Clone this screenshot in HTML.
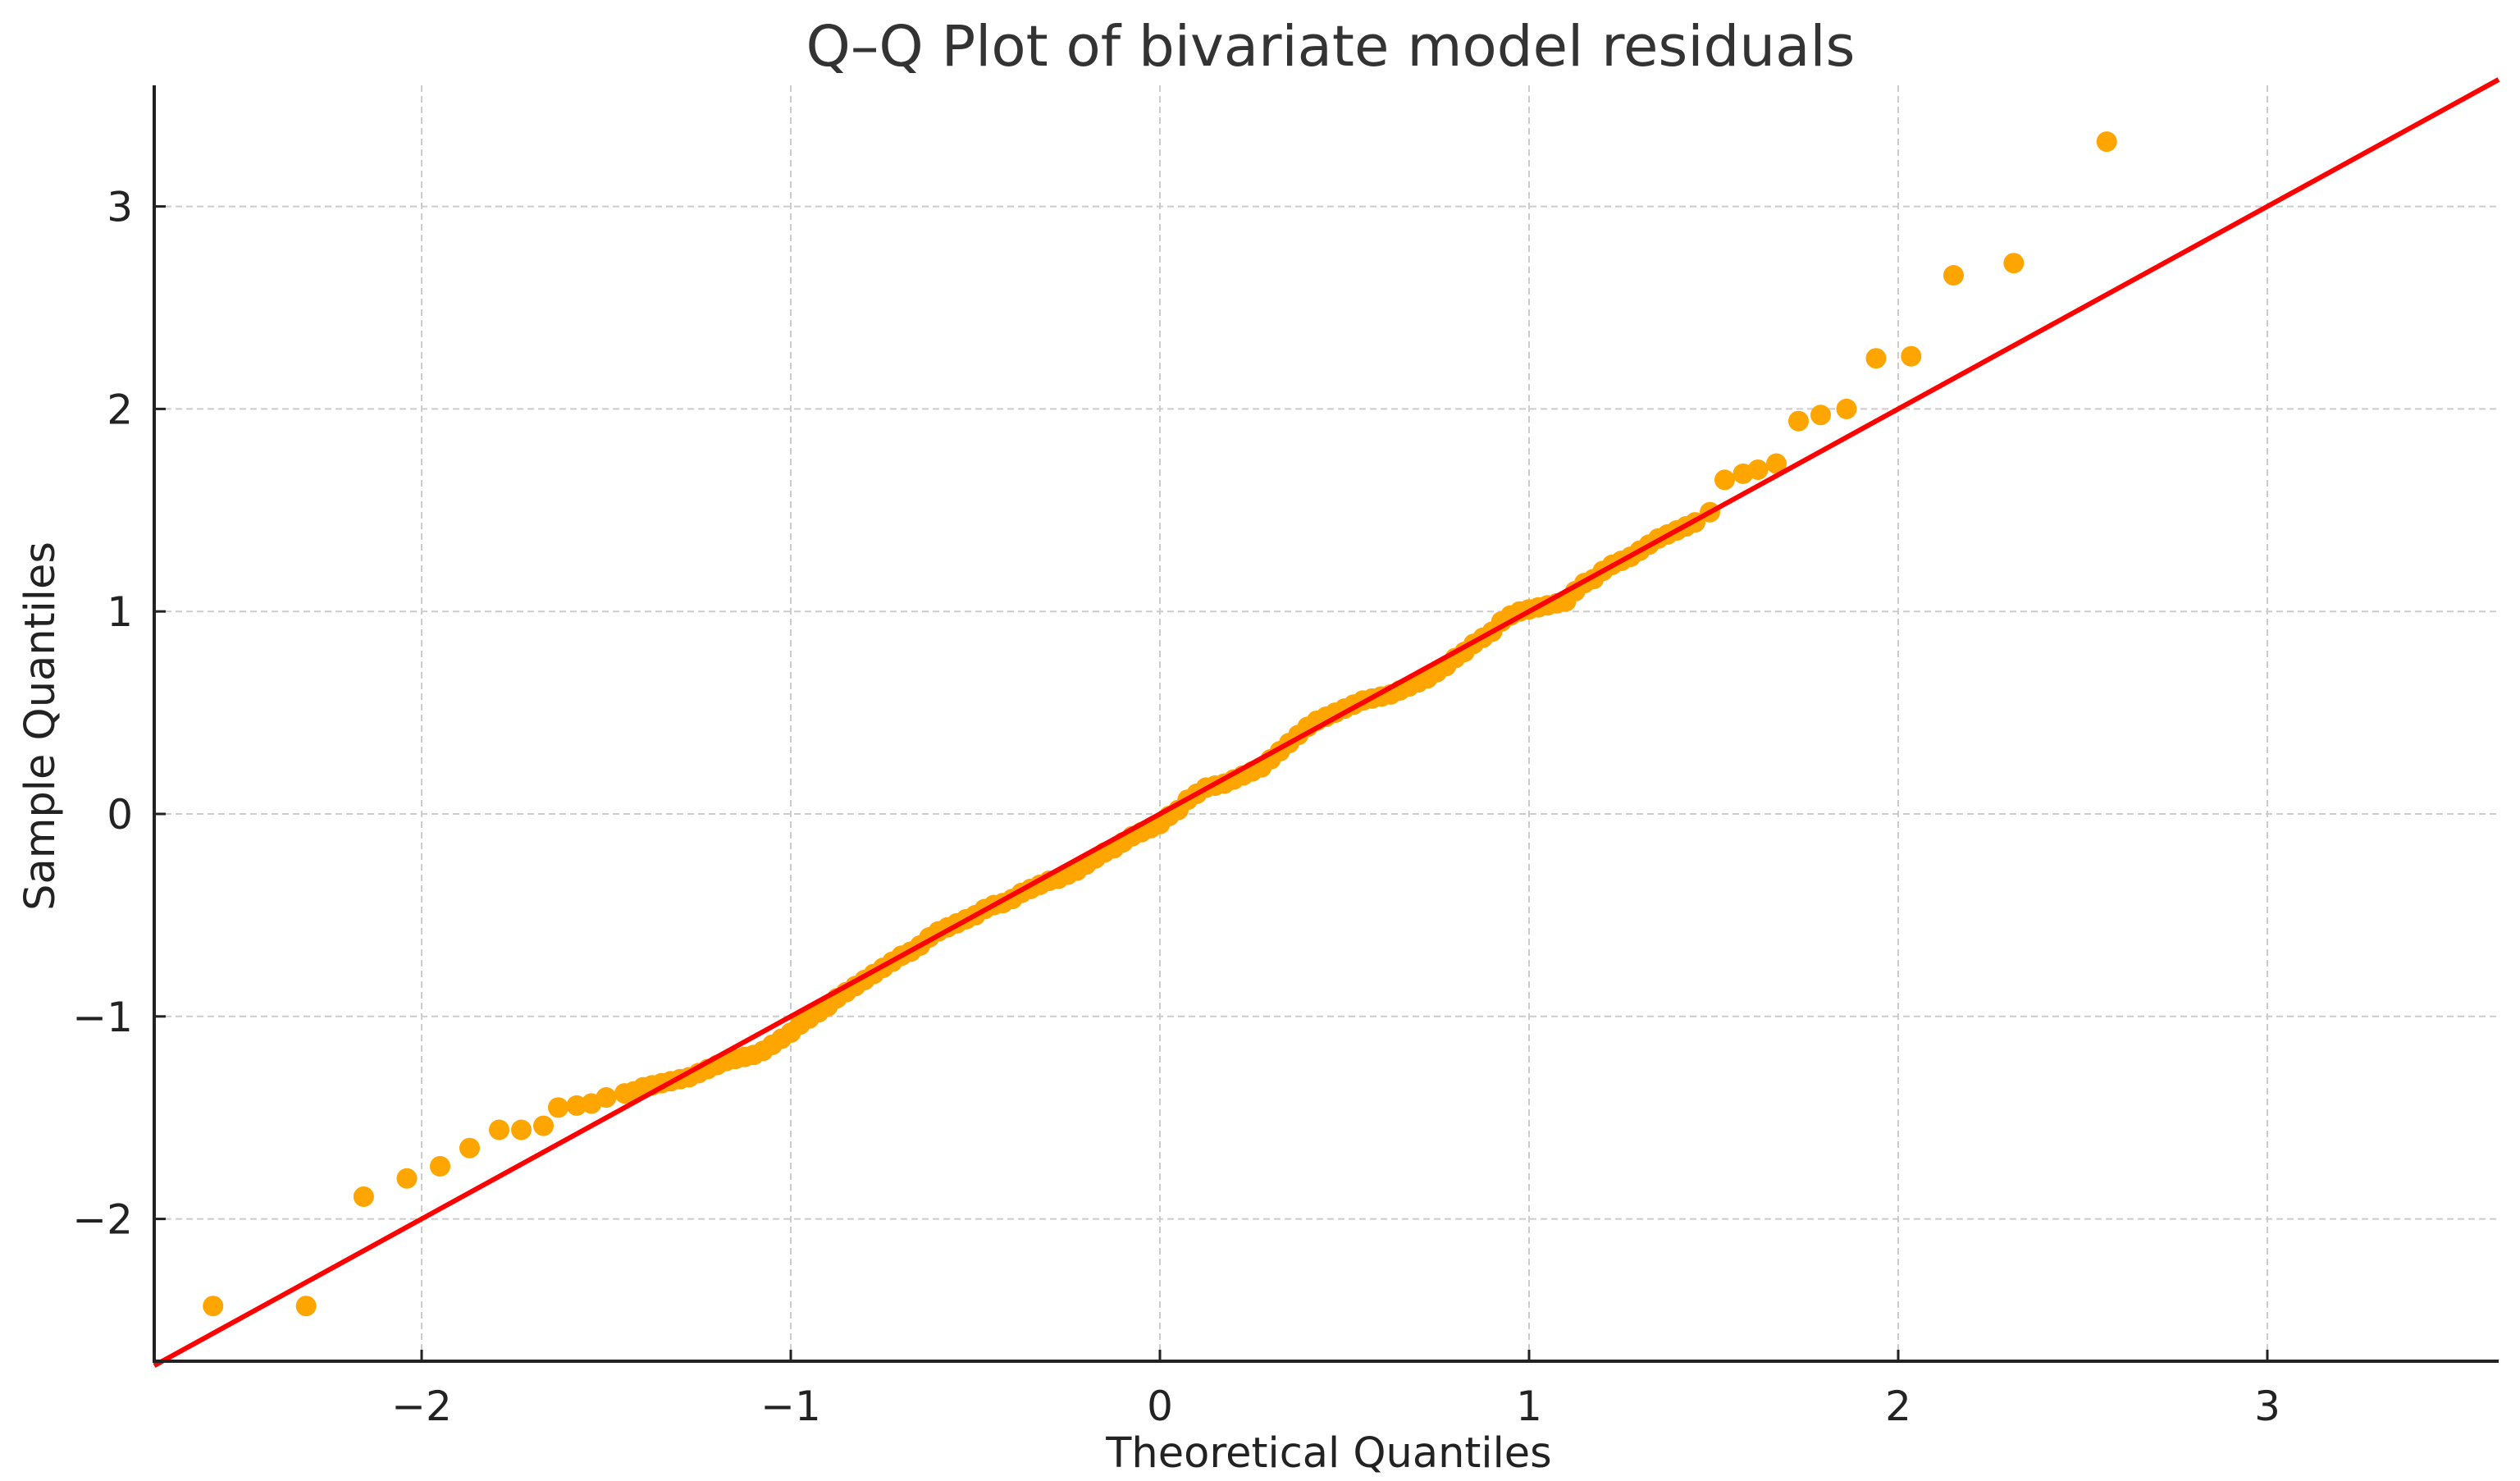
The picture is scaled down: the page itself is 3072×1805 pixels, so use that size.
<!DOCTYPE html>
<html><head><meta charset="utf-8"><style>
html,body{margin:0;padding:0;background:#fff}
svg{display:block;font-family:"DejaVu Sans","Liberation Sans",sans-serif}
</style></head><body>
<svg id="chart" width="3072" height="1805" viewBox="0 0 3072 1805" xmlns="http://www.w3.org/2000/svg">
<text x="1622" y="80" font-size="69" text-anchor="middle" fill="#333">Q–Q Plot of bivariate model residuals</text>
<g id="grid"></g>
<g id="ref"></g>
<g id="pts"></g>
<g id="axes"></g>
<text x="1620" y="1788" font-size="51" text-anchor="middle" fill="#222">Theoretical Quantiles</text>
<text x="0" y="0" font-size="51" text-anchor="middle" fill="#222" transform="translate(66,885) rotate(-90)">Sample Quantiles</text>
</svg>
<script>
const xTicks=[-2,-1,0,1,2,3];
const yTicks=[-2,-1,0,1,2,3];
const xTickLabels=["−2","−1","0","1","2","3"];
const yTickLabels=["−2","−1","0","1","2","3"];
const theoretical=[-2.565,-2.313,-2.157,-2.04,-1.95,-1.87,-1.79,-1.73,-1.67,-1.63,-1.58,-1.54,-1.50,
-1.45,-1.425,-1.40,-1.375,-1.35,-1.325,-1.30,-1.275,-1.25,-1.225,-1.20,-1.175,-1.15,-1.125,-1.10,-1.075,-1.05,-1.025,-1.00,-0.975,-0.95,-0.925,-0.90,-0.875,-0.85,-0.825,-0.80,-0.775,-0.75,-0.725,-0.70,-0.675,-0.65,-0.625,-0.60,-0.575,-0.55,-0.525,-0.50,-0.475,-0.45,-0.425,-0.40,-0.375,-0.35,-0.325,-0.30,-0.275,-0.25,-0.225,-0.20,-0.175,-0.15,-0.125,-0.10,-0.075,-0.05,-0.025,0.00,0.025,0.05,0.075,0.10,0.125,0.15,0.175,0.20,0.225,0.25,0.275,0.30,0.325,0.35,0.375,0.40,0.425,0.45,0.475,0.50,0.525,0.55,0.575,0.60,0.625,0.65,0.675,0.70,0.725,0.75,0.775,0.80,0.825,0.85,0.875,0.90,0.925,0.95,0.975,1.00,1.025,1.05,1.075,1.10,1.125,1.15,1.175,1.20,1.225,1.25,1.275,1.30,1.325,1.35,1.375,1.40,1.425,1.45,
1.49,1.53,1.58,1.62,1.67,1.73,1.79,1.86,1.94,2.035,2.15,2.313,2.565];
const sample=[-2.43,-2.43,-1.89,-1.80,-1.74,-1.65,-1.56,-1.56,-1.54,-1.45,-1.44,-1.43,-1.40,
-1.38,-1.37,-1.35,-1.34,-1.33,-1.32,-1.31,-1.30,-1.28,-1.26,-1.24,-1.22,-1.21,-1.20,-1.19,-1.17,-1.14,-1.11,-1.08,-1.04,-1.01,-0.98,-0.95,-0.91,-0.88,-0.85,-0.82,-0.79,-0.76,-0.73,-0.70,-0.68,-0.65,-0.61,-0.58,-0.56,-0.54,-0.52,-0.50,-0.47,-0.45,-0.44,-0.42,-0.39,-0.37,-0.35,-0.33,-0.32,-0.30,-0.28,-0.25,-0.22,-0.19,-0.17,-0.14,-0.11,-0.09,-0.07,-0.05,-0.01,0.02,0.07,0.10,0.13,0.14,0.15,0.17,0.19,0.21,0.23,0.27,0.31,0.35,0.39,0.43,0.46,0.48,0.50,0.52,0.54,0.56,0.57,0.58,0.59,0.61,0.63,0.65,0.67,0.70,0.73,0.77,0.80,0.84,0.87,0.90,0.95,0.98,1.00,1.01,1.02,1.03,1.04,1.05,1.10,1.14,1.16,1.20,1.23,1.25,1.27,1.30,1.33,1.36,1.38,1.40,1.42,1.44,
1.49,1.65,1.68,1.70,1.73,1.94,1.97,2.00,2.25,2.26,2.66,2.72,3.32];
const X0=1414, XU=450, Y0=992, YU=246.8;
const L=188, R=3046, T=104, B=1659;
const NS="http://www.w3.org/2000/svg";
function sx(v){return X0+v*XU;}
function sy(v){return Y0-v*YU;}
function mk(tag,attrs,parent){const e=document.createElementNS(NS,tag);for(const k in attrs)e.setAttribute(k,attrs[k]);parent.appendChild(e);return e;}
const grid=document.getElementById('grid'),axes=document.getElementById('axes'),pts=document.getElementById('pts'),ref=document.getElementById('ref');
xTicks.forEach((t,i)=>{
 const g=mk('line',{x1:sx(t),x2:sx(t),y1:T,y2:B,stroke:'#cccccc','stroke-width':2,'stroke-dasharray':'8,5'},grid);
 
 
 const tk=mk('line',{x1:sx(t),x2:sx(t),y1:B,y2:B-14,stroke:'#222','stroke-width':3},axes);
 
 
 const lb=mk('text',{x:sx(t),y:B+72,'font-size':50,'text-anchor':'middle',fill:'#222'},axes);
 lb.textContent=xTickLabels[i];
 
 
});
yTicks.forEach((t,i)=>{
 const g=mk('line',{x1:L,x2:R,y1:sy(t),y2:sy(t),stroke:'#cccccc','stroke-width':2,'stroke-dasharray':'8,5'},grid);
 
 
 const tk=mk('line',{x1:L,x2:L+14,y1:sy(t),y2:sy(t),stroke:'#222','stroke-width':3},axes);
 
 
 const lb=mk('text',{x:L-26,y:sy(t)+18,'font-size':50,'text-anchor':'end',fill:'#222'},axes);
 lb.textContent=yTickLabels[i];
 
 
});
const xmin=(L-X0)/XU, xmax=(R-X0)/XU;
theoretical.forEach((t,i)=>{
 const c=mk('circle',{cx:sx(t),cy:sy(sample[i]),r:12.5,fill:'#ffa500'},pts);
 
 
});
const rl=mk('line',{x1:sx(xmin),y1:sy(xmin),x2:sx(xmax),y2:sy(xmax),stroke:'#ff0000','stroke-width':6},ref);


document.getElementById('chart').appendChild(ref);
document.getElementById('chart').appendChild(axes);
const ax1=mk('line',{x1:L,x2:L,y1:T,y2:B,stroke:'#222','stroke-width':4},axes);


const ax2=mk('line',{x1:L-2,x2:R,y1:B,y2:B,stroke:'#222','stroke-width':4},axes);


</script>
</body></html>
